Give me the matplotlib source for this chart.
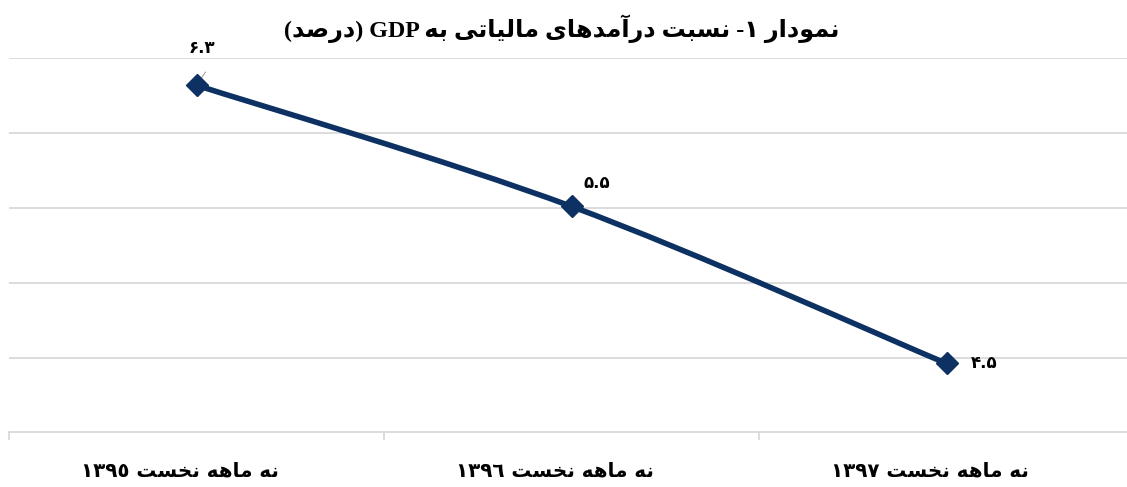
import numpy as np
import matplotlib
matplotlib.use("Agg")
import matplotlib.pyplot as plt
from matplotlib.path import Path
from matplotlib.patches import PathPatch
import matplotlib.transforms as mtransforms

# ===============================================================
#  data
# ===============================================================
years = ["١٣٩٥", "١٣٩٦", "١٣٩٧"]
cat_prefix = "نه ماهه نخست"
values = [6.32, 5.51, 4.46]
value_labels = ["۶.۳", "۵.۵", "۴.۵"]
title = "نمودار ۱- نسبت درآمدهای مالیاتی به GDP (درصد)"

# ===============================================================
#  minimal arabic shaping (no reshaper/bidi available)
# ===============================================================
FORMS = {
    'ا': ('\uFE8D', '\uFE8E', None, None),
    'آ': ('\uFE81', '\uFE82', None, None),
    'ب': ('\uFE8F', '\uFE90', '\uFE91', '\uFE92'),
    'ت': ('\uFE95', '\uFE96', '\uFE97', '\uFE98'),
    'خ': ('\uFEA5', '\uFEA6', '\uFEA7', '\uFEA8'),
    'د': ('\uFEA9', '\uFEAA', None, None),
    'ر': ('\uFEAD', '\uFEAE', None, None),
    'س': ('\uFEB1', '\uFEB2', '\uFEB3', '\uFEB4'),
    'ص': ('\uFEB9', '\uFEBA', '\uFEBB', '\uFEBC'),
    'ل': ('\uFEDD', '\uFEDE', '\uFEDF', '\uFEE0'),
    'م': ('\uFEE1', '\uFEE2', '\uFEE3', '\uFEE4'),
    'ن': ('\uFEE5', '\uFEE6', '\uFEE7', '\uFEE8'),
    'ه': ('\uFEE9', '\uFEEA', '\uFEEB', '\uFEEC'),
    'و': ('\uFEED', '\uFEEE', None, None),
    'ی': ('\uFEEF', '\uFEF0', '\uFEF3', '\uFEF4'),
}
MIRROR = {'(': ')', ')': '('}


def shape_token(tok):
    out = []
    for i, ch in enumerate(tok):
        if ch not in FORMS:
            out.append(MIRROR.get(ch, ch))
            continue
        prev = tok[i-1] if i > 0 else None
        nxt = tok[i+1] if i + 1 < len(tok) else None
        jp = prev in FORMS and FORMS[prev][2] is not None
        jn = FORMS[ch][2] is not None and nxt in FORMS
        iso, fin, ini, med = FORMS[ch]
        if jp and jn:
            out.append(med)
        elif jp:
            out.append(fin)
        elif jn:
            out.append(ini)
        else:
            out.append(iso)
    return ''.join(reversed(out))


def fa(text):
    vis = []
    for tok in text.split(' '):
        if all(c.isdigit() or c == '.' or c.isascii() and c.isalpha() for c in tok):
            vis.append(tok)
        else:
            vis.append(shape_token(tok))
    return ' '.join(reversed(vis))


# ===============================================================
#  plot
# ===============================================================
line_col = '#0c3162'
grid_col = '#d9d9d9'

fig = plt.figure(figsize=(11.27, 4.87), dpi=100)
ax = fig.add_axes([9/1127, 1-432.3/487, 1125/1127, (432.3-58.3)/487])

x = np.arange(len(values))
y = np.array(values)

# smoothed line (excel style) through the points
pts = np.column_stack([x, y])
ext = np.vstack([pts[0], pts, pts[-1]])
verts = [pts[0]]
codes = [Path.MOVETO]
for i in range(len(pts) - 1):
    p0, p1, p2, p3 = ext[i], ext[i+1], ext[i+2], ext[i+3]
    verts += [p1 + (p2 - p0) / 6, p2 - (p3 - p1) / 6, p2]
    codes += [Path.CURVE4] * 3
ax.add_patch(PathPatch(Path(verts, codes), fill=False, edgecolor=line_col,
                       lw=4.0, capstyle='round', joinstyle='round', zorder=3))
ax.plot(x, y, linestyle='none', marker='D', markersize=11, color=line_col, zorder=4)

# data labels
offsets = [(3.6, 27), (18, 16.5), (27, 0)]
for i in range(len(values)):
    ax.annotate(value_labels[i], (x[i], y[i]), xytext=offsets[i], textcoords='offset points',
                ha='center', va='center', fontsize=12, fontweight='bold',
                family=['DejaVu Sans'], color='black', zorder=5)
# leader line on first label
ax.annotate('', (x[0], y[0]), xytext=(6.5, 9.5), textcoords='offset points',
            arrowprops=dict(arrowstyle='-', color='#a6a6a6', lw=0.8, shrinkA=0, shrinkB=3))

ax.set_xlim(-0.5, len(values) - 0.5)
ax.set_ylim(4.0, 6.5)
ax.set_yticks(np.arange(4.5, 6.51, 0.5))
ax.yaxis.grid(True, color=grid_col, lw=1.3)
ax.tick_params(axis='y', length=0, labelleft=False)

ax.set_xticks(x)
ax.set_xticklabels([fa(cat_prefix + ' ' + yr) for yr in years], fontsize=14.3,
                   fontweight='bold', family=['DejaVu Sans'])
ax.set_xticks(np.arange(-0.5, len(values)), minor=True)
ax.tick_params(axis='x', which='major', length=0, pad=21)
ax.tick_params(axis='x', which='minor', length=6, width=1.3, color=grid_col)
shift = mtransforms.ScaledTranslation(-17/100, 0, fig.dpi_scale_trans)
for lab in ax.get_xticklabels():
    lab.set_transform(lab.get_transform() + shift)

for s in ['top', 'right', 'left']:
    ax.spines[s].set_visible(False)
ax.spines['bottom'].set_color(grid_col)
ax.spines['bottom'].set_linewidth(1.3)
ax.set_axisbelow(True)

fig.text(562/1127, 1-29/487, fa(title), ha='center', va='center', fontsize=17.3,
         fontweight='bold', family=['Liberation Serif', 'DejaVu Sans'])

fig.savefig('out.png', dpi=100)
